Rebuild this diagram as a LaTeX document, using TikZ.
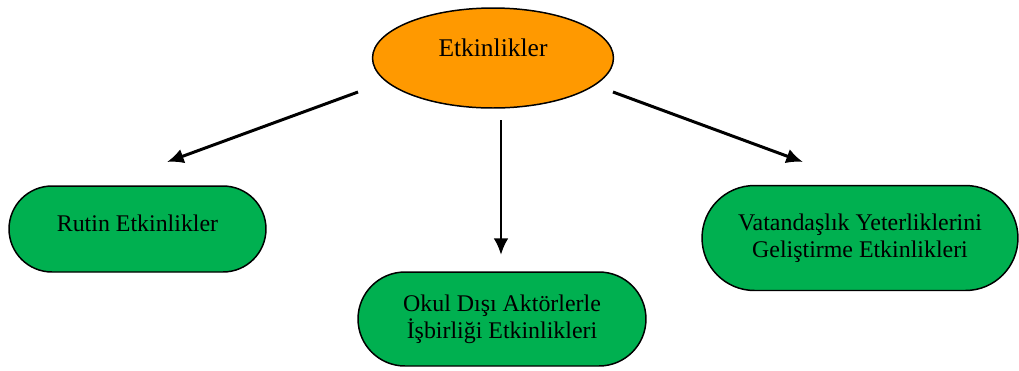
\documentclass[tikz,border=0pt]{standalone}
\usepackage{fontspec}
\setmainfont{Liberation Serif}
\usetikzlibrary{shapes.geometric, shapes.misc, arrows.meta}
\definecolor{turuncu}{RGB}{255,153,0}
\definecolor{yesil}{RGB}{0,176,80}
\tikzset{>={Latex[length=9.5pt,width=8.5pt]}}

\begin{document}
\begin{tikzpicture}[x=0.02cm, y=-0.02cm,
  ana/.style={ellipse, draw, line width=0.85pt, fill=turuncu, minimum width=4.82cm, minimum height=2cm, inner sep=0pt, font=\fontsize{14.5}{16}\selectfont, text height=10pt, text depth=12pt},
  etk/.style={rounded rectangle, draw, line width=0.85pt, fill=yesil, inner sep=0pt, align=center, font=\fontsize{13.6}{15.2}\selectfont},
  ok/.style={->, line width=1.7pt}]
\useasboundingbox (0,0) rectangle (1019,370);
\node[ana] (etkinlik) at (493,58) {Etkinlikler};
\node[etk, minimum width=5.14cm, minimum height=1.72cm, text height=10pt, text depth=7pt] (rutin) at (137.5,229) {Rutin Etkinlikler};
\node[etk, minimum width=5.76cm, minimum height=1.88cm] (okul) at (502,319) {Okul Dışı Aktörlerle\\İşbirliği Etkinlikleri};
\node[etk, minimum width=6.32cm, minimum height=2.1cm] (vatan) at (860,238) {Vatandaşlık Yeterliklerini\\Geliştirme Etkinlikleri};
% ok uclari
\coordinate (solbas) at (358,92);
\coordinate (solson) at (167,162);
\coordinate (ortabas) at (501,120);
\coordinate (ortason) at (501,255);
\coordinate (sagbas) at (613,92);
\coordinate (sagson) at (803,162);
\draw[ok] (solbas) -- (solson);
\draw[ok] (ortabas) -- (ortason);
\draw[ok] (sagbas) -- (sagson);
\end{tikzpicture}
\end{document}
